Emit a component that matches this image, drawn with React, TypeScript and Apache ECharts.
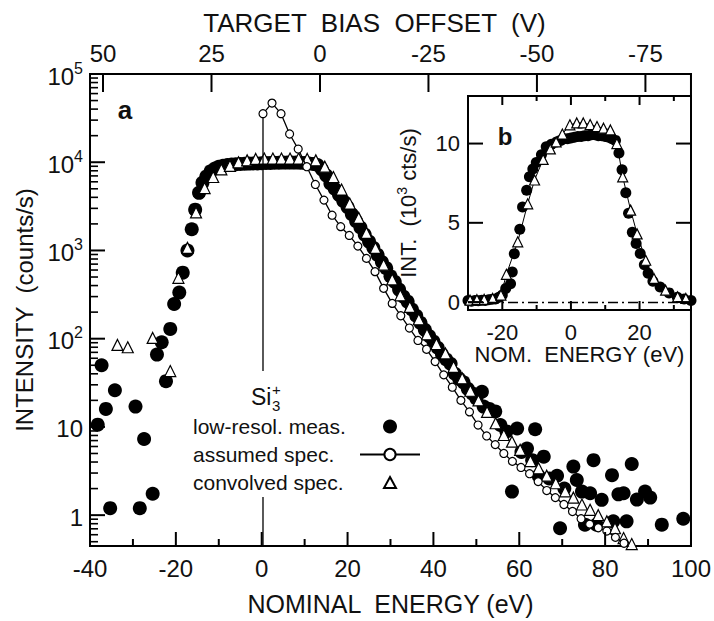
import React, { useEffect, useRef } from 'react';
import * as echarts from 'echarts';

const FONT = "'Liberation Sans', Arial, Helvetica, sans-serif";
const INK = '#111';

// ---- axis extents ----
const MAIN_E_MIN = -40;
const MAIN_E_MAX = 100;
const MAIN_I_MIN = 0.447;
const MAIN_I_MAX = 100000;
const BIAS_MIN = -85.5;
const BIAS_MAX = 53;
const INSET_E_MIN = -30;
const INSET_E_MAX = 35;
const INSET_I_MIN = -0.5;
const INSET_I_MAX = 13;

// ---- tick values ----
const bottomMajorTicks = [-40, -20, 0, 20, 40, 60, 80, 100];
const bottomMinorTicks = [-30, -10, 10, 30, 50, 70, 90];
const topBiasTicks = [50, 25, 0, -25, -50, -75];
const logMajorTicks = [1, 10, 100, 1000, 10000, 100000];
const logMinorTicks = [
  0.5, 0.6, 0.7, 0.8, 0.9,
  2, 3, 4, 5, 6, 7, 8, 9,
  20, 30, 40, 50, 60, 70, 80, 90,
  200, 300, 400, 500, 600, 700, 800, 900,
  2000, 3000, 4000, 5000, 6000, 7000, 8000, 9000,
  20000, 30000, 40000, 50000, 60000, 70000, 80000, 90000,
];
const insetXMajor = [-20, 0, 20];
const insetXMinor = [-10, 10, 30];
const insetYTicks = [0, 5, 10];

// ---- panel a: low-resolution measurement [energy eV, counts/s] ----
const measuredMain: [number, number][] = [
  [-38.2, 10.6], [-37.3, 50], [-36.3, 16], [-35.3, 1.2], [-34.2, 26],
  [-29.4, 17], [-28.4, 1.2], [-27.4, 7.3], [-25.4, 1.75], [-24.4, 66],
  [-23.3, 91], [-22.3, 33], [-21.3, 129], [-20.4, 247], [-19.2, 333],
  [-18.4, 560], [-17.3, 1000], [-16.3, 1740], [-15.5, 2900], [-14.6, 4500],
  [-13.8, 5850], [-12.9, 6900], [-11.9, 7900], [-10.9, 8500], [-10, 8900],
  [-9, 9100], [-8, 9300], [-7, 9400], [-6, 9500], [-5, 9550], [-4, 9600],
  [-3, 9650], [-2, 9700], [-1, 9700], [0, 9750], [1, 9800], [2, 9800],
  [3, 9850], [4, 9850], [5, 9900], [6, 9900], [7, 9900], [8, 9900],
  [9, 9850], [10, 9800], [11, 9700], [12, 9550], [13, 9300], [14, 8300],
  [15, 7100], [16, 5750], [17, 5000], [18, 4270], [19, 3630], [20, 3100],
  [21, 2570], [22, 2140], [23, 1820], [24, 1510], [25, 1260], [26, 1070],
  [27, 890], [28, 740], [29, 630], [30, 510], [31, 440], [32, 360],
  [33, 300], [34, 263], [35, 214], [36, 182], [37, 151], [38, 126],
  [39, 107], [40, 93], [41, 79], [42, 66], [43, 58], [44, 52], [45, 40],
  [46, 35], [47, 32], [48, 27], [49, 24], [50, 21], [51.3, 25], [51.7, 17],
  [53, 16], [54.4, 15], [55.6, 10.5], [57, 8.9], [58.3, 1.85], [59.5, 9.6],
  [60.5, 5.2], [61.8, 5.7], [63, 4.2], [63.7, 9.4], [64.5, 2.8], [65.7, 4.6],
  [67, 2.6], [68.8, 2.8], [69.5, 0.71], [70.5, 2.0], [72.6, 3.55], [73.4, 2.5],
  [74.6, 1.85], [75.3, 0.78], [76.5, 1.77], [77.3, 4.2], [78, 0.78],
  [79.2, 1.49], [81.6, 2.84], [81.9, 0.85], [83.1, 1.72], [84.3, 1.77],
  [85, 0.85], [86.2, 3.8], [87.4, 1.5], [89.3, 1.85], [90.5, 1.58],
  [93.2, 0.78], [98.2, 0.91],
];

// ---- panel a: assumed spectrum ----
const assumedEnergy = [
  0.3, 0.3, 2.4, 4.5, 6.5, 8.5, 10.5, 12.5, 14.5, 16.4, 18.4, 20.4, 22.4, 24.4,
  26.4, 28.4, 30.4, 32.4, 34.4, 36.4, 38.4, 40.4, 42.4, 44.4, 46.4, 48.4, 50.4,
  52.4, 54.4, 56.4, 58.4, 60.4, 62.4, 64.4, 66.4, 68.4, 70.4, 72.4, 74.4, 76.4,
  78.4, 80.4, 82.4, 84.4, 86.4,
];
const assumedIntensity = [
  0.01, 35500, 46800, 35500, 20900, 14100, 8900, 5600, 3720, 2510, 1860, 1480,
  1120, 813, 575, 372, 251, 182, 132, 95.5, 75.9, 55, 38.9, 28.2, 20, 14.8, 10.5,
  7.9, 6.3, 5.0, 4.07, 3.47, 2.95, 2.4, 1.9, 1.58, 1.32, 1.1, 0.91, 0.79, 0.72,
  0.66, 0.56, 0.48, 0.4,
];

// ---- panel a: convolved spectrum ----
const convolvedMain: [number, number][] = [
  [-33.6, 85], [-31.2, 80], [-25.4, 102], [-21.3, 43], [-19.4, 490],
  [-17.3, 1070], [-15.3, 2700], [-13.3, 5100], [-11.3, 6800], [-9.4, 8300],
  [-7.4, 9100], [-5.4, 10000], [-3.4, 10500], [-1.4, 10900], [0.6, 11000],
  [2.6, 11000], [4.6, 11000], [6.6, 11000], [8.6, 11000], [10.6, 10900],
  [12.6, 10500], [14.7, 8900], [16.7, 6800], [18.6, 4900], [20.5, 3400],
  [22.6, 2340], [24.4, 1580], [26.5, 1070], [28.4, 690], [30.4, 470],
  [32.3, 310], [34.5, 229], [36.6, 166], [38.5, 112], [40.7, 87], [42.8, 68],
  [44.7, 48], [46.7, 35.5], [48.6, 25.7], [50.5, 20], [52.5, 14.8], [54.5, 11],
  [56.4, 8.1], [58.3, 6.8], [60.2, 5.5], [62.6, 4.1], [64.5, 3.4], [66.4, 2.8],
  [68.5, 2.3], [70.7, 1.86], [72.6, 1.58], [74.6, 1.32], [76.5, 1.15],
  [78.4, 1.0], [80.4, 0.85], [82.3, 0.71], [84.3, 0.55], [86.2, 0.47],
];

// ---- panel b (inset, linear, 10^3 cts/s) ----
const measuredInset: [number, number][] = [
  [-30, 0.1], [-29, 0.05], [-28, 0.1], [-27, 0.08], [-26, 0.12], [-25, 0.1],
  [-24, 0.15], [-23, 0.18], [-22, 0.2], [-21, 0.3], [-20, 0.45], [-19, 0.85],
  [-17.6, 1.15], [-17.1, 1.9], [-16.5, 3.05], [-14.9, 4.6], [-14.1, 6.0],
  [-12.9, 7.05], [-12.1, 7.9], [-11.1, 8.4], [-10.1, 8.8], [-8.6, 9.3],
  [-7.2, 9.8], [-5.7, 9.95], [-4.2, 10.1], [-3, 10.2], [-2, 10.3], [-1, 10.3],
  [0, 10.35], [1, 10.4], [2, 10.45], [3, 10.45], [4, 10.5], [5, 10.5],
  [6, 10.55], [7, 10.55], [8, 10.5], [9, 10.5], [10, 10.45], [11, 10.4],
  [12, 10.3], [13, 10.2], [14, 9.4], [14.9, 8.35], [16, 6.9], [16.8, 5.6],
  [17.9, 4.4], [19, 3.7], [20.2, 3.06], [21.4, 2.35], [22.5, 1.82],
  [23.9, 1.32], [26, 0.95], [28.6, 0.58], [31, 0.3], [33, 0.2], [35, 0.1],
];
const convolvedInset: [number, number][] = [
  [-29.4, 0.12], [-27.4, 0.15], [-25.3, 0.17], [-22.8, 0.23], [-20.4, 0.44],
  [-18.8, 1.75], [-15.5, 3.8], [-12.6, 6.2], [-10.6, 7.7], [-8.1, 9.0],
  [-6.0, 9.66], [-4.3, 10.1], [-2.5, 10.6], [-0.3, 11.18], [1.7, 11.3],
  [3.6, 11.3], [5.6, 11.2], [7.6, 11.07], [9.5, 10.97], [11.5, 10.86],
  [13.4, 10.0], [15.1, 7.9], [17.4, 5.8], [19.3, 4.3], [21.8, 2.64],
  [24.2, 1.49], [27.6, 0.75], [31.1, 0.33], [33.5, 0.23],
];

const seriesNames = ['low-resol. meas.', 'assumed spec.', 'convolved spec.'];

const axisLine = () => ({ show: true, onZero: false, lineStyle: { color: '#000', width: 2 } });
const noSplit = () => ({ show: false });
const noTick = () => ({ show: false });

// legend triangle icon: invisible corner moves keep the 60x14 box, so the triangle keeps its shape
const triangleIcon = 'path://M0,0 M60,14 M30,1.5 L36,12.5 L24,12.5 Z';

// tick item: [x value, y value, length px, direction (0 up,1 down,2 right,3 left), line width]
type TickItem = [number, number, number, number, number];
const UP = 0, DOWN = 1, RIGHT = 2, LEFT = 3;

function buildTickGroups(): { xi: number; yi: number; items: TickItem[] }[] {
  return [
    {
      xi: 0, yi: 0,
      items: [
        ...bottomMajorTicks.map((e): TickItem => [e, MAIN_I_MIN, 14, UP, 2]),
        ...bottomMinorTicks.map((e): TickItem => [e, MAIN_I_MIN, 7, UP, 2]),
        ...logMajorTicks.map((v): TickItem => [MAIN_E_MIN, v, 15, RIGHT, 2]),
        ...logMinorTicks.map((v): TickItem => [MAIN_E_MIN, v, 8, RIGHT, 1.6]),
      ],
    },
    { xi: 1, yi: 0, items: topBiasTicks.map((b): TickItem => [b, MAIN_I_MAX, 18, DOWN, 2]) },
    {
      xi: 2, yi: 1,
      items: [
        ...insetXMajor.map((e): TickItem => [e, INSET_I_MIN, 9, UP, 2]),
        ...insetXMinor.map((e): TickItem => [e, INSET_I_MIN, 5, UP, 2]),
        ...insetXMajor.map((e): TickItem => [e, INSET_I_MAX, 9, DOWN, 2]),
        ...insetXMinor.map((e): TickItem => [e, INSET_I_MAX, 5, DOWN, 2]),
        ...insetYTicks.map((v): TickItem => [INSET_E_MIN, v, 15, RIGHT, 2]),
        ...insetYTicks.map((v): TickItem => [INSET_E_MAX, v, 15, LEFT, 2]),
      ],
    },
  ];
}

// ticks drawn as thin rectangular symbols of a scatter series, placed by the axes' own scales
function tickScatter(xi: number, yi: number, items: TickItem[], idx: number) {
  return {
    name: `ticks-${idx}`,
    type: 'scatter', xAxisIndex: xi, yAxisIndex: yi,
    z: 6, silent: true, clip: false, symbol: 'rect',
    itemStyle: { color: '#000', opacity: 1 },
    emphasis: { disabled: true },
    tooltip: { show: false },
    data: items.map(([xv, yv, len, dir, w]) => {
      const vertical = dir === UP || dir === DOWN;
      const off = dir === UP ? [0, -len / 2] : dir === DOWN ? [0, len / 2]
        : dir === RIGHT ? [len / 2, 0] : [-len / 2, 0];
      return {
        value: [xv, yv],
        symbolSize: vertical ? [w, len] : [len, w],
        symbolOffset: off,
      };
    }),
  };
}

const labelGraphics: any[] = [
  { type: 'rect', z: 100, silent: true, shape: { x: 248, y: 371, width: 36, height: 44 }, style: { fill: '#fff' } },
  { type: 'text', z: 101, x: 251, y: 397, style: { text: 'Si', font: `23px ${FONT}`, fill: INK, verticalAlign: 'middle' } },
  { type: 'text', z: 101, x: 272, y: 389, style: { text: '+', font: `15px ${FONT}`, fill: INK, verticalAlign: 'middle' } },
  { type: 'text', z: 101, x: 272, y: 405, style: { text: '3', font: `15px ${FONT}`, fill: INK, verticalAlign: 'middle' } },
  { type: 'text', z: 101, x: 125, y: 110, style: { text: 'a', font: `bold 26px ${FONT}`, fill: INK, align: 'center', verticalAlign: 'middle' } },
  { type: 'text', z: 101, x: 505, y: 136, style: { text: 'b', font: `bold 24px ${FONT}`, fill: INK, align: 'center', verticalAlign: 'middle' } },
];

function buildOption(): any {
  const assumedData: any[] = assumedEnergy.map((e, i) =>
    i === 0
      ? { value: [e, assumedIntensity[i]], symbol: 'none' }
      : [e, assumedIntensity[i]]
  );

  return {
    animation: false,
    textStyle: { fontFamily: FONT, color: INK },
    grid: [
      {
        left: 90, top: 74, width: 601, height: 474,
        show: true, borderColor: '#000', borderWidth: 2,
      },
      {
        left: 468, top: 96, width: 223, height: 214,
        show: true, borderColor: '#000', borderWidth: 2,
        backgroundColor: '#fff',
      },
    ],
    xAxis: [
      {
        gridIndex: 0, type: 'value', position: 'bottom',
        min: MAIN_E_MIN, max: MAIN_E_MAX, interval: 20,
        axisLine: axisLine(), axisTick: noTick(),
        splitLine: noSplit(),
        axisLabel: { fontSize: 24, margin: 10, color: INK, fontFamily: FONT },
        name: 'NOMINAL  ENERGY (eV)', nameLocation: 'middle', nameGap: 45,
        nameTextStyle: { fontSize: 25, color: INK, fontFamily: FONT },
      },
      {
        gridIndex: 0, type: 'value', position: 'top', inverse: true,
        min: BIAS_MIN, max: BIAS_MAX,
        axisLine: axisLine(), axisTick: noTick(),
        splitLine: noSplit(),
        axisLabel: { customValues: topBiasTicks, fontSize: 24, margin: 9, color: INK, fontFamily: FONT },
        name: 'TARGET  BIAS  OFFSET  (V)', nameLocation: 'middle', nameGap: 38,
        nameTextStyle: { fontSize: 26, color: INK, fontFamily: FONT, padding: [0, 32, 0, 0] },
      },
      {
        gridIndex: 1, type: 'value', position: 'bottom', min: INSET_E_MIN, max: INSET_E_MAX,
        axisLine: axisLine(), axisTick: noTick(),
        splitLine: noSplit(),
        axisLabel: { customValues: insetXMajor, fontSize: 22, margin: 11, color: INK, fontFamily: FONT },
        name: 'NOM.  ENERGY (eV)', nameLocation: 'middle', nameGap: 32,
        nameTextStyle: { fontSize: 22, color: INK, fontFamily: FONT },
      },
    ],
    yAxis: [
      {
        gridIndex: 0, type: 'log', logBase: 10, position: 'left',
        min: MAIN_I_MIN, max: MAIN_I_MAX,
        axisLine: axisLine(), axisTick: noTick(),
        splitLine: noSplit(),
        axisLabel: {
          customValues: logMajorTicks, margin: 7,
          formatter: (v: number) => {
            const exp = Math.round(Math.log10(v));
            if (exp === 0) return '{b|1}';
            if (exp === 1) return '{b|10}';
            return `{b|10}{s|${exp}}`;
          },
          rich: {
            b: { fontSize: 24, lineHeight: 28, verticalAlign: 'bottom', color: INK, fontFamily: FONT },
            s: { fontSize: 16, lineHeight: 16, verticalAlign: 'top', color: INK, fontFamily: FONT },
          },
        },
        name: 'INTENSITY  (counts/s)', nameLocation: 'middle', nameGap: 52, nameRotate: 90,
        nameTextStyle: { fontSize: 24, color: INK, fontFamily: FONT },
      },
      {
        gridIndex: 1, type: 'value', position: 'left', min: INSET_I_MIN, max: INSET_I_MAX,
        axisLine: axisLine(), axisTick: noTick(),
        splitLine: noSplit(),
        axisLabel: { customValues: insetYTicks, fontSize: 22, margin: 8, color: INK, fontFamily: FONT },
        name: 'INT.  (10{s|3} cts/s)', nameLocation: 'middle', nameGap: 47, nameRotate: 90,
        nameTextStyle: {
          fontSize: 22, lineHeight: 26, color: INK, fontFamily: FONT,
          rich: { s: { fontSize: 14, lineHeight: 14, verticalAlign: 'top', color: INK, fontFamily: FONT } },
        },
      },
    ],
    legend: {
      data: [
        { name: seriesNames[0] },
        { name: seriesNames[1] },
        { name: seriesNames[2], icon: triangleIcon },
      ],
      orient: 'vertical',
      left: 185, top: 412,
      align: 'right',
      itemWidth: 60, itemHeight: 14, itemGap: 7,
      backgroundColor: '#fff',
      padding: [4, 6, 4, 8],
      selectedMode: false,
      formatter: (name: string) => `{t|${name}}`,
      textStyle: {
        rich: { t: { width: 162, align: 'left', fontSize: 21, lineHeight: 23, color: INK, fontFamily: FONT } },
      },
    },
    graphic: labelGraphics,
    series: [
      {
        name: seriesNames[0], type: 'scatter', xAxisIndex: 0, yAxisIndex: 0,
        data: measuredMain, symbol: 'circle', symbolSize: 14,
        itemStyle: { color: '#000', opacity: 1 },
      },
      {
        name: seriesNames[1], type: 'line', xAxisIndex: 0, yAxisIndex: 0,
        data: assumedData, symbol: 'circle', symbolSize: 8, showSymbol: true,
        itemStyle: { color: '#fff', borderColor: '#000', borderWidth: 1.2, opacity: 1 },
        lineStyle: { color: '#000', width: 1.3 },
        clip: true,
      },
      {
        name: seriesNames[2], type: 'scatter', xAxisIndex: 0, yAxisIndex: 0,
        data: convolvedMain, symbol: 'triangle', symbolSize: 11,
        itemStyle: { color: '#fff', borderColor: '#000', borderWidth: 1.2, opacity: 1 },
      },
      {
        name: 'inset meas.', type: 'scatter', xAxisIndex: 2, yAxisIndex: 1,
        data: measuredInset, symbol: 'circle', symbolSize: 11,
        itemStyle: { color: '#000', opacity: 1 },
      },
      {
        name: 'inset conv.', type: 'line', xAxisIndex: 2, yAxisIndex: 1,
        data: convolvedInset, symbol: 'triangle', symbolSize: 10, showSymbol: true,
        itemStyle: { color: '#fff', borderColor: '#000', borderWidth: 1.2, opacity: 1 },
        lineStyle: { color: '#000', width: 1 },
        markLine: {
          silent: true, symbol: ['none', 'none'], label: { show: false },
          lineStyle: { color: '#000', width: 1.3, type: [10, 4, 2, 4] },
          data: [{ yAxis: 0 }],
        },
      },
      ...buildTickGroups().map((g, i) => tickScatter(g.xi, g.yi, g.items, i)),
    ],
  };
}

export default function App() {
  const ref = useRef<HTMLDivElement>(null);
  useEffect(() => {
    if (!ref.current) return;
    const chart = echarts.init(ref.current, null, { renderer: 'svg' });
    chart.setOption(buildOption());
    return () => chart.dispose();
  }, []);
  return (
    <div
      ref={ref}
      style={{ position: 'absolute', left: 0, top: 0, width: 714, height: 621, background: '#fff' }}
    />
  );
}
